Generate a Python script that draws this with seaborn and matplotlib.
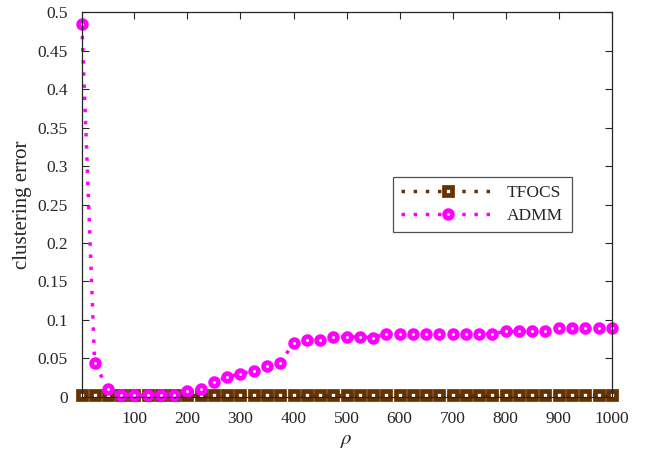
import numpy as np
import pandas as pd
import matplotlib
matplotlib.use("Agg")
import matplotlib.pyplot as plt
import seaborn as sns

rho = [1, 25, 50, 75, 100, 125, 150, 175, 200, 225, 250, 275, 300, 325, 350,
       375, 400, 425, 450, 475, 500, 525, 550, 575, 600, 625, 650, 675, 700,
       725, 750, 775, 800, 825, 850, 875, 900, 925, 950, 975, 1000]
tfocs = [0.002] * 41
admm = [0.485, 0.044, 0.010, 0.0025, 0.0025, 0.0025, 0.0025, 0.0025, 0.007,
        0.010, 0.019, 0.026, 0.030, 0.034, 0.040, 0.044, 0.070, 0.074, 0.074,
        0.078, 0.078, 0.078, 0.077, 0.082, 0.082, 0.082, 0.082, 0.082, 0.082,
        0.082, 0.082, 0.082, 0.085, 0.085, 0.085, 0.085, 0.089, 0.089, 0.089,
        0.089, 0.089]
xticks = [100, 200, 300, 400, 500, 600, 700, 800, 900, 1000]
yticks = [0, 0.05, 0.1, 0.15, 0.2, 0.25, 0.3, 0.35, 0.4, 0.45, 0.5]
ytick_labels = ["0", "0.05", "0.1", "0.15", "0.2", "0.25", "0.3", "0.35", "0.4", "0.45", "0.5"]

sns.set_style("ticks")
plt.rcParams["font.family"] = ["Liberation Serif", "DejaVu Serif"]
plt.rcParams["mathtext.fontset"] = "stix"

fig = plt.figure(figsize=(6.55, 4.51), dpi=100)
ax = fig.add_axes([0.125, 0.120, 0.809, 0.853])

brown = "#663300"
magenta = "#FF00FF"

sns.lineplot(x=rho, y=tfocs, ax=ax, color=brown, linestyle=":", linewidth=2.5,
             marker="s", markersize=5.4, markeredgewidth=3.4,
             markerfacecolor="white", markeredgecolor=brown, label="TFOCS")
sns.lineplot(x=rho, y=admm, ax=ax, color=magenta, linestyle=":", linewidth=2.5,
             marker="o", markersize=5.6, markeredgewidth=3.4,
             markerfacecolor="white", markeredgecolor=magenta, label="ADMM")

for ln in ax.get_lines():
    ln.set_dashes((1, 2.5))
    ln.set_dash_capstyle("butt")
    ln.set_clip_on(False)

ax.set_xlim(1, 1000)
ax.set_ylim(0, 0.5)
ax.set_xticks(xticks)
ax.set_xticklabels([str(t) for t in xticks])
ax.set_yticks(yticks)
ax.set_yticklabels(ytick_labels)
ax.tick_params(direction="in", top=True, right=True, length=5, width=0.8,
               labelsize=12.5, colors="#262626")
ax.tick_params(axis="x", pad=10)
ax.tick_params(axis="y", pad=10)
for s in ax.spines.values():
    s.set_linewidth(0.9)
    s.set_color("#262626")
    s.set_visible(True)

ax.set_xlabel(r"$\rho$", fontsize=15, labelpad=3)
ax.set_ylabel("clustering error", fontsize=15, labelpad=4)

leg = ax.legend(loc="upper left", bbox_to_anchor=(0.57, 0.595), fontsize=12.5,
                handlelength=5.4, frameon=True, fancybox=False,
                borderpad=0.5, labelspacing=0.35, handletextpad=0.7)
leg.get_frame().set_edgecolor("#262626")
leg.get_frame().set_linewidth(0.9)
for ln in leg.get_lines():
    ln.set_dashes((1, 2.5))

fig.savefig("out.png", dpi=100)
